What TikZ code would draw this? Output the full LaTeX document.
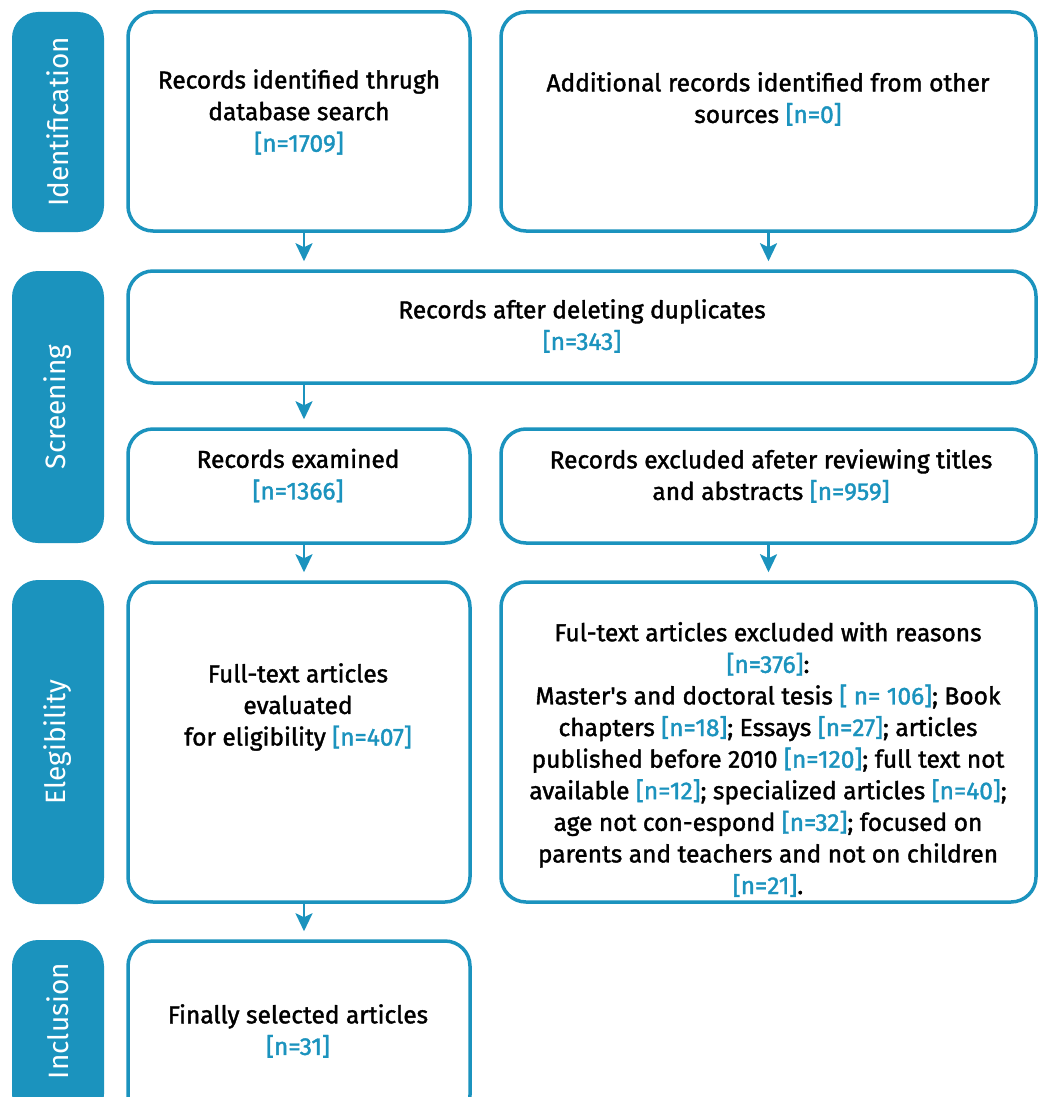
\documentclass[tikz,border=0pt]{standalone}
\usepackage{fontspec}
\setmainfont{Fira Sans}
\newfontfamily\boxfont[FakeBold=1.5]{Fira Sans}
\usetikzlibrary{arrows.meta}
\definecolor{cb}{RGB}{27,147,190}
\newcommand{\nn}[1]{\textcolor{cb}{#1}}
\begin{document}
\begin{tikzpicture}[x=1pt,y=-1pt,
  tab/.style={fill=cb, rounded corners=26pt, inner sep=0pt, draw=none},
  box/.style={draw=cb, line width=3.5pt, rounded corners=25pt, inner sep=0pt, fill=white},
  txt/.style={align=center, font=\boxfont\fontsize{24.5}{31.6}\selectfont, inner sep=0pt},
  tabtxt/.style={text=white, rotate=90, font=\fontsize{28}{30}\selectfont, inner sep=0pt},
  arr/.style={draw=cb, line width=2.5pt, -{Stealth[width=17pt,length=18pt,inset=4pt]}, shorten >=8pt}]
\useasboundingbox (0,0) rectangle (1040,1097);
\clip (0,0) rectangle (1040,1097);
\fill[white] (0,0) rectangle (1040,1097);
% tabs
\node[tab, minimum width=92pt, minimum height=220pt] (t1) at (58,122) {};
\node[tab, minimum width=92pt, minimum height=272pt] (t2) at (58,407) {};
\node[tab, minimum width=92pt, minimum height=324pt] (t3) at (58,742) {};
\node[tab, minimum width=92pt, minimum height=180pt] (t4) at (58,1030) {};
\node[tabtxt] (t1l) at (t1.center) {Identification};
\node[tabtxt] (t2l) at (t2.center) {Screening};
\node[tabtxt] (t3l) at (t3.center) {Elegibility};
\node[tabtxt] (t4l) at (58,1021) {Inclusion};
% boxes
\node[box, minimum width=342pt, minimum height=219pt] (b1) at (299,121.5) {};
\node[box, minimum width=535pt, minimum height=219pt] (b2) at (768.5,121.5) {};
\node[box, minimum width=908pt, minimum height=112pt] (b3) at (582,327) {};
\node[box, minimum width=342pt, minimum height=114pt] (b4) at (299,486) {};
\node[box, minimum width=535pt, minimum height=114pt] (b5) at (768.5,486) {};
\node[box, minimum width=342pt, minimum height=320pt] (b6) at (299,742) {};
\node[box, minimum width=535pt, minimum height=320pt] (b7) at (768.5,742) {};
\node[box, minimum width=342pt, minimum height=179pt] (b8) at (299,1030.5) {};
% texts
\node[txt] (b1t) at (299,112) {Records identified thrugh\\database search\\\nn{[n=1709]}};
\node[txt] (b2t) at (768,99) {Additional records identified from other\\sources \nn{[n=0]}};
\node[txt] (b3t) at (582,326) {Records after deleting duplicates\\\nn{[n=343]}};
\node[txt] (b4t) at (298,475.5) {Records examined\\\nn{[n=1366]}};
\node[txt] (b5t) at (771,476) {Records excluded afeter reviewing titles\\and abstracts \nn{[n=959]}};
\node[txt] (b6t) at (298,707) {Full-text articles\\evaluated\\for eligibility \nn{[n=407]}};
\node[txt] (b7t) at (768,759.5) {Ful-text articles excluded with reasons\\\nn{[n=376]}:\\Master\textquotesingle s and doctoral tesis \nn{[ n= 106]}; Book\\chapters \nn{[n=18]}; Essays \nn{[n=27]}; articles\\published before 2010 \nn{[n=120]}; full text not\\available \nn{[n=12]}; specialized articles \nn{[n=40]};\\age not con-espond \nn{[n=32]}; focused on\\parents and teachers and not on children\\\nn{[n=21]}.};
\node[txt] (b8t) at (298,1031) {Finally selected articles\\\nn{[n=31]}};
% arrows
\coordinate (colL) at (304,0);
\coordinate (colR) at (768.5,0);
\draw[arr] (colL |- b1.south) -- (colL |- b3.north);
\draw[arr] (colR |- b2.south) -- (colR |- b3.north);
\draw[arr] (colL |- b3.south) -- (colL |- b4.north);
\draw[arr] (colL |- b4.south) -- (colL |- b6.north);
\draw[arr] (colR |- b5.south) -- (colR |- b7.north);
\draw[arr] (colL |- b6.south) -- (colL |- b8.north);
\end{tikzpicture}
\end{document}
